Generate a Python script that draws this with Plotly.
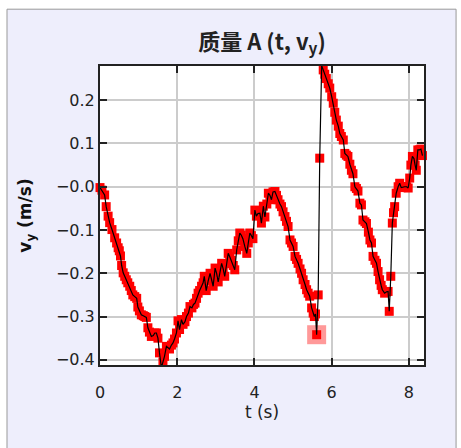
import plotly.graph_objects as go

t_s = [0.00, 0.05, 0.12, 0.16, 0.21, 0.25, 0.31, 0.38, 0.43, 0.47, 0.50, 0.53, 0.56, 0.60, 0.64, 0.68,
       0.72, 0.77, 0.81, 0.85, 0.90, 0.95, 0.98, 1.02, 1.07, 1.12, 1.16, 1.20, 1.24, 1.28, 1.33, 1.38,
       1.42, 1.46, 1.50, 1.54, 1.59, 1.63, 1.67, 1.72, 1.76, 1.80, 1.85, 1.89, 1.93, 1.98, 2.02, 2.06,
       2.11, 2.15, 2.20, 2.24, 2.29, 2.33, 2.38, 2.42, 2.46, 2.50, 2.54, 2.58, 2.63, 2.67, 2.70, 2.75,
       2.80, 2.85, 2.89, 2.93, 2.98, 3.02, 3.06, 3.10, 3.15, 3.19, 3.23, 3.28, 3.32, 3.36, 3.40, 3.45,
       3.49, 3.54, 3.58, 3.62, 3.66, 3.70, 3.75, 3.80, 3.84, 3.88, 3.92, 3.96, 4.01, 4.05, 4.09, 4.14,
       4.18, 4.23, 4.27, 4.32, 4.36, 4.40, 4.44, 4.48, 4.53, 4.57, 4.61, 4.66, 4.70, 4.74, 4.79, 4.83,
       4.87, 4.92, 4.96, 5.00, 5.05, 5.09, 5.13, 5.18, 5.22, 5.26, 5.31, 5.35, 5.39, 5.43, 5.48, 5.52,
       5.55, 5.58, 5.61, 5.65, 5.69, 5.74, 5.78, 5.82, 5.86, 5.91, 5.95, 6.00, 6.04, 6.08, 6.12, 6.17,
       6.21, 6.25, 6.30, 6.34, 6.38, 6.42, 6.47, 6.51, 6.55, 6.60, 6.64, 6.68, 6.73, 6.77, 6.81, 6.86,
       6.90, 6.95, 6.99, 7.03, 7.07, 7.12, 7.16, 7.20, 7.24, 7.28, 7.31, 7.37, 7.42, 7.46, 7.49, 7.53,
       7.57, 7.60, 7.63, 7.67, 7.72, 7.76, 7.80, 7.85, 7.89, 7.94, 7.98, 8.02, 8.05, 8.09, 8.13, 8.16,
       8.19, 8.23, 8.27, 8.31, 8.35]

vy_ms = [-0.002, -0.008, -0.019, -0.046, -0.068, -0.083, -0.099, -0.118, -0.130, -0.141, -0.148, -0.160,
         -0.182, -0.199, -0.207, -0.215, -0.222, -0.230, -0.240, -0.250, -0.254, -0.258, -0.278, -0.287,
         -0.296, -0.298, -0.300, -0.302, -0.326, -0.336, -0.346, -0.344, -0.338, -0.338, -0.350, -0.384,
         -0.418, -0.405, -0.392, -0.369, -0.372, -0.375, -0.366, -0.361, -0.352, -0.338, -0.310, -0.330,
         -0.307, -0.318, -0.312, -0.300, -0.292, -0.277, -0.280, -0.272, -0.269, -0.258, -0.246, -0.240,
         -0.230, -0.222, -0.207, -0.240, -0.218, -0.200, -0.215, -0.230, -0.188, -0.200, -0.220, -0.198,
         -0.177, -0.190, -0.207, -0.178, -0.154, -0.162, -0.170, -0.182, -0.192, -0.146, -0.125, -0.107,
         -0.112, -0.120, -0.138, -0.154, -0.130, -0.107, -0.113, -0.120, -0.054, -0.068, -0.062, -0.061,
         -0.084, -0.045, -0.070, -0.040, -0.015, -0.020, -0.030, -0.012, -0.011, -0.020, -0.030, -0.040,
         -0.046, -0.058, -0.069, -0.080, -0.092, -0.123, -0.130, -0.138, -0.161, -0.168, -0.177, -0.190,
         -0.200, -0.215, -0.226, -0.238, -0.246, -0.253, -0.280, -0.292, -0.300, -0.294, -0.342, -0.250,
         0.066, 0.280, 0.270, 0.260, 0.250, 0.238, 0.228, 0.208, 0.193, 0.172, 0.154, 0.140,
         0.123, 0.116, 0.108, 0.077, 0.073, 0.070, 0.052, 0.038, 0.030, 0.000, -0.004, -0.010,
         -0.038, -0.042, -0.077, -0.081, -0.085, -0.105, -0.123, -0.130, -0.161, -0.170, -0.177, -0.196,
         -0.215, -0.228, -0.238, -0.246, -0.243, -0.242, -0.288, -0.207, -0.084, -0.060, -0.046, -0.015,
         0.000, 0.008, -0.002, 0.000, 0.000, 0.000, -0.003, 0.020, 0.050, 0.070, 0.065, 0.050,
         0.038, 0.085, 0.085, 0.087, 0.072]

highlight_t = [5.61]
highlight_vy = [-0.342]

x_ticks = [0, 2, 4, 6, 8]
x_tick_text = ["0", "2", "4", "6", "8"]
y_ticks = [0.2, 0.1, 0.0, -0.1, -0.2, -0.3, -0.4]
y_tick_text = ["0.2", "0.1", "\u22120.0", "\u22120.1", "\u22120.2", "\u22120.3", "\u22120.4"]

fig = go.Figure()
fig.add_trace(go.Scatter(x=highlight_t, y=highlight_vy, mode="markers",
                         marker=dict(symbol="square", size=19, color="rgba(255,0,0,0.4)", line=dict(width=0)),
                         cliponaxis=False, showlegend=False, hoverinfo="skip"))
fig.add_trace(go.Scatter(x=t_s, y=vy_ms, mode="markers",
                         marker=dict(symbol="square", size=9, color="#ff0000", line=dict(width=0)),
                         cliponaxis=False, showlegend=False))
fig.add_trace(go.Scatter(x=t_s, y=vy_ms, mode="lines",
                         line=dict(color="black", width=1.2),
                         cliponaxis=False, showlegend=False, hoverinfo="skip"))

# lavender panel and white plot area
fig.add_shape(type="rect", xref="paper", yref="paper", x0=-0.287, x1=1.099, y0=-0.30, y1=1.19,
              fillcolor="#eeeefc", line=dict(color="#999999", width=1), layer="below")
fig.add_shape(type="rect", xref="paper", yref="paper", x0=0, x1=1, y0=0, y1=1,
              fillcolor="white", line=dict(width=0), layer="below")

axis_common = dict(showline=True, linecolor="#222222", linewidth=2, mirror="allticks",
                   ticks="inside", ticklen=7, tickwidth=2, tickcolor="#222222",
                   showgrid=True, gridcolor="#cccccc", gridwidth=2, zeroline=False,
                   tickfont=dict(family="DejaVu Sans", size=16, color="#222222"))

fig.update_xaxes(range=[0, 8.39], tickvals=x_ticks, ticktext=x_tick_text, ticklabelstandoff=12,
                 title=dict(text="t (s)", font=dict(family="DejaVu Sans", size=17, color="#222222"), standoff=2),
                 **axis_common)
fig.update_yaxes(range=[-0.412, 0.279], tickvals=y_ticks, ticktext=y_tick_text,
                 title=dict(text="<b>v<sub>y</sub> (m/s)</b>", font=dict(family="DejaVu Sans", size=17, color="#111111"), standoff=20),
                 **axis_common)

fig.update_layout(
    width=461, height=448,
    margin=dict(l=100, r=37, t=66, b=83),
    paper_bgcolor="white", plot_bgcolor="white",
    title=dict(text="<b>质量 A (t, v<sub>y</sub>)</b>", x=0.5, xref="paper", y=1 - 42 / 448, yref="container",
               xanchor="center", yanchor="middle",
               font=dict(family="Noto Sans CJK SC, DejaVu Sans", size=22, color="#222222")),
)

fig.write_html("out.html")
